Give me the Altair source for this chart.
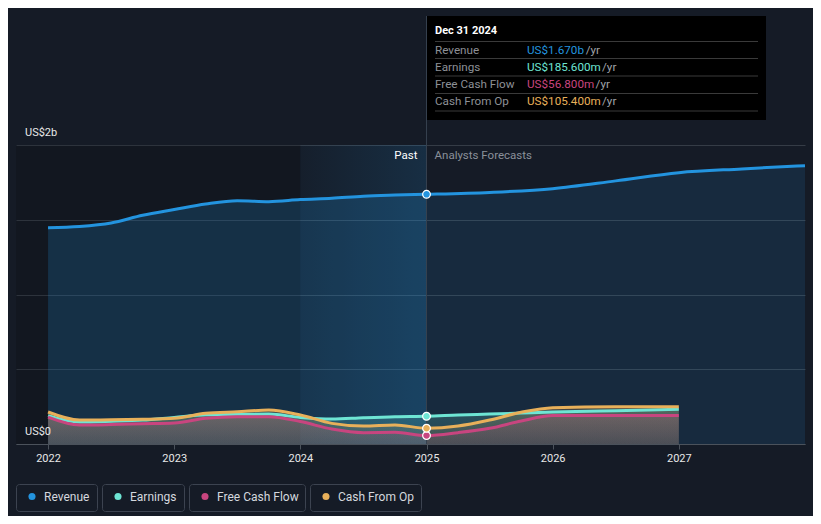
import altair as alt
import pandas as pd

# ---------------- data ----------------
series_names = ["Revenue", "Earnings", "Free Cash Flow", "Cash From Op"]
series_colors = ["#2394df", "#6ee5d4", "#c8457f", "#e8b05a"]

revenue_t = [2022.0, 2022.25, 2022.5, 2022.75, 2023.0, 2023.25, 2023.5, 2023.75,
             2024.0, 2024.25, 2024.5, 2024.75, 2025.0, 2025.5, 2026.0, 2026.5,
             2027.0, 2027.5, 2028.0]
revenue_b = [1.447, 1.455, 1.478, 1.53, 1.568, 1.605, 1.627, 1.621,
             1.635, 1.644, 1.658, 1.665, 1.670, 1.683, 1.708, 1.76,
             1.815, 1.84, 1.862]

lower_t = [2022.0, 2022.25, 2022.5, 2022.75, 2023.0, 2023.25, 2023.5, 2023.75,
           2024.0, 2024.25, 2024.5, 2024.75, 2025.0, 2025.25, 2025.5, 2025.75,
           2026.0, 2026.5, 2027.0]
earnings_b = [0.19, 0.147, 0.152, 0.16, 0.178, 0.195, 0.199, 0.2,
              0.178, 0.167, 0.176, 0.183, 0.1856, 0.194, 0.2, 0.207,
              0.214, 0.223, 0.232]
fcf_b = [0.18, 0.127, 0.13, 0.135, 0.14, 0.172, 0.183, 0.183,
         0.15, 0.1, 0.076, 0.078, 0.0568, 0.076, 0.105, 0.154,
         0.19, 0.19, 0.19]
cfo_b = [0.214, 0.16, 0.162, 0.165, 0.172, 0.205, 0.216, 0.227,
         0.194, 0.138, 0.12, 0.127, 0.1054, 0.12, 0.16, 0.212,
         0.243, 0.25, 0.25]

x_ticks = [2022, 2023, 2024, 2025, 2026, 2027]
y_grid = [0, 0.5, 1.0, 1.5, 2.0]
y_label_vals = [2.0, 0.0]
y_label_text = ["US$2b", "US$0"]

tooltip_title = "Dec 31 2024"
tooltip_values = ["US$1.670b", "US$185.600m", "US$56.800m", "US$105.400m"]
present_t = 2025.0
past_band_start = 2024.0

# ---------------- layout ----------------
X0, X1 = 2021.746, 2028.0
W, H = 789, 299
BG = "#151b26"
FONT = "Roboto"

rows = []
for t, v in zip(revenue_t, revenue_b):
    rows.append({"t": t, "v": v, "series": "Revenue"})
for name, vals in zip(series_names[1:], [earnings_b, fcf_b, cfo_b]):
    for t, v in zip(lower_t, vals):
        rows.append({"t": t, "v": v, "series": name})
df = pd.DataFrame(rows)

xs = alt.Scale(domain=[X0, X1], nice=False, zero=False)
ys = alt.Scale(domain=[0, 2], nice=False, zero=True)
x_axis = alt.Axis(values=x_ticks, format="d", title=None, grid=False,
                  labelColor="#e8e8e8", labelFontSize=11, labelFont=FONT,
                  tickColor="#4b525b", tickSize=5, domainColor="#4b525b",
                  labelPadding=3)
y_axis = alt.Axis(values=y_grid, labels=False, ticks=False, domain=False,
                  title=None, grid=True, gridColor="#353c46", gridWidth=1)
X = alt.X("t:Q", scale=xs, axis=x_axis)
Y = alt.Y("v:Q", scale=ys, axis=y_axis)
color_scale = alt.Scale(domain=series_names, range=series_colors)

one = pd.DataFrame({"k": [0]})

layers = []

# dark past region & last-year highlight band
reg = pd.DataFrame({"t": [X0], "t2": [past_band_start]})
layers.append(alt.Chart(reg).mark_rect(color="#000000", opacity=0.14).encode(
    x=X, x2="t2:Q", y=alt.value(0), y2=alt.value(H)))
band = pd.DataFrame({"t": [past_band_start], "t2": [present_t]})
layers.append(alt.Chart(band).mark_rect(
    color=alt.Gradient(gradient="linear", x1=0, x2=1, y1=0, y2=0,
                       stops=[alt.GradientStop(color="rgba(35,148,223,0.03)", offset=0),
                              alt.GradientStop(color="rgba(35,148,223,0.16)", offset=1)])
).encode(x=X, x2="t2:Q", y=alt.value(0), y2=alt.value(H)))

# revenue areas
rev = alt.Chart(df).transform_filter(alt.datum.series == "Revenue")
layers.append(rev.transform_filter(alt.datum.t <= present_t).mark_area(
    interpolate="monotone", color="#2394df", opacity=0.2).encode(x=X, y=Y))
layers.append(rev.transform_filter(alt.datum.t >= present_t).mark_area(
    interpolate="monotone", color="#2394df", opacity=0.13).encode(x=X, y=Y))

# lower series areas (own colour, low opacity)
for name, col in zip(series_names[1:], series_colors[1:]):
    r, g, b = int(col[1:3], 16), int(col[3:5], 16), int(col[5:7], 16)
    layers.append(alt.Chart(df).transform_filter(alt.datum.series == name).mark_area(
        interpolate="monotone",
        color=alt.Gradient(gradient="linear", x1=0, x2=0, y1=0, y2=1,
                           stops=[alt.GradientStop(color=f"rgba({r},{g},{b},0.22)", offset=0),
                                  alt.GradientStop(color=f"rgba({r},{g},{b},0.12)", offset=1)])
    ).encode(x=X, y=Y))

# lines
layers.append(alt.Chart(df).mark_line(interpolate="monotone", strokeWidth=3).encode(
    x=X, y=Y, color=alt.Color("series:N", scale=color_scale, legend=None),
    detail="series:N"))

# vertical present rule
pr = pd.DataFrame({"t": [present_t]})
layers.append(alt.Chart(pr).mark_rule(color="#364250", strokeWidth=1).encode(
    x=X, y=alt.value(-129), y2=alt.value(H)))

# points at present
layers.append(alt.Chart(df).transform_filter(alt.datum.t == present_t).mark_circle(
    size=60, opacity=1, stroke="#ffffff", strokeWidth=1.2).encode(
    x=X, y=Y, color=alt.Color("series:N", scale=color_scale, legend=None)))

# Past / Analysts Forecasts
layers.append(alt.Chart(pr).mark_text(text="Past", align="right", baseline="middle",
                                      dx=-9, color="#ffffff", fontSize=11.5, font=FONT).encode(
    x=X, y=alt.value(11)))
layers.append(alt.Chart(pr).mark_text(text="Analysts Forecasts", align="left", baseline="middle",
                                      dx=8, color="#8a9099", fontSize=11.5, font=FONT).encode(
    x=X, y=alt.value(11)))

# y labels
yl = pd.DataFrame({"v": y_label_vals, "lab": y_label_text})
layers.append(alt.Chart(yl).mark_text(align="left", baseline="middle", dy=-12,
                                      color="#e8e8e8", fontSize=11, font=FONT).encode(
    x=alt.value(9), y=Y, text="lab:N"))

# tooltip box
TX0, TX1 = 411, 750
layers.append(alt.Chart(one).mark_rect(color="#000000").encode(
    x=alt.value(TX0), x2=alt.value(TX1), y=alt.value(-129), y2=alt.value(-25)))
layers.append(alt.Chart(one).mark_text(align="left", baseline="middle", color="#ffffff",
                                      fontSize=11, fontWeight="bold", font=FONT).encode(
    x=alt.value(419), y=alt.value(-114), text=alt.value(tooltip_title)))
for sep_y in [-103.5, -86.5, -69, -51.5, -34]:
    layers.append(alt.Chart(one).mark_rule(color="#3a3a3a", strokeWidth=1).encode(
        x=alt.value(419), x2=alt.value(742), y=alt.value(sep_y)))

FS_T = 11.7


def text_w(s):
    wmap = {"U": 7.5, "S": 6.9, "$": 6.6, ".": 3.1, "m": 10.2, "b": 6.6}
    return sum(wmap.get(c, 6.6) for c in s) * FS_T / 12


for i, (name, val, col) in enumerate(zip(series_names, tooltip_values, series_colors)):
    ry = -95.5 + i * 17.3
    layers.append(alt.Chart(one).mark_text(align="left", baseline="middle", color="#8d9096",
                                          fontSize=FS_T, font=FONT).encode(
        x=alt.value(419), y=alt.value(ry), text=alt.value(name)))
    layers.append(alt.Chart(one).mark_text(align="left", baseline="middle", color=col,
                                          fontSize=FS_T, font=FONT).encode(
        x=alt.value(511), y=alt.value(ry), text=alt.value(val)))
    layers.append(alt.Chart(one).mark_text(align="left", baseline="middle", color="#a0a3a8",
                                          fontSize=FS_T, font=FONT).encode(
        x=alt.value(511 + text_w(val) + 3), y=alt.value(ry), text=alt.value("/yr")))

# custom legend
legend_text_w = [41, 42, 76, 71]
lx = 0
for name, col, tw in zip(series_names, series_colors, legend_text_w):
    bw = 28 + tw + 12
    layers.append(alt.Chart(one).mark_rect(cornerRadius=3, stroke="#3c4350", strokeWidth=1,
                                          fill=BG, fillOpacity=1).encode(
        x=alt.value(lx + 0.5), x2=alt.value(lx + bw + 0.5), y=alt.value(339.5), y2=alt.value(366.5)))
    layers.append(alt.Chart(one).mark_circle(size=50, color=col, opacity=1).encode(
        x=alt.value(lx + 16), y=alt.value(351.5)))
    layers.append(alt.Chart(one).mark_text(align="left", baseline="middle", color="#d4d8de",
                                          fontSize=12, font=FONT).encode(
        x=alt.value(lx + 28), y=alt.value(352), text=alt.value(name)))
    lx += bw + 5

chart = alt.layer(*layers).properties(
    width=W, height=H,
    autosize=alt.AutoSizeParams(type="none"),
    padding={"left": 8, "top": 137, "right": 8, "bottom": 72},
    background=BG,
).configure(font=FONT, view=alt.ViewConfig(stroke=None))

chart.save("out.html", embed_options={"renderer": "svg", "actions": False})
